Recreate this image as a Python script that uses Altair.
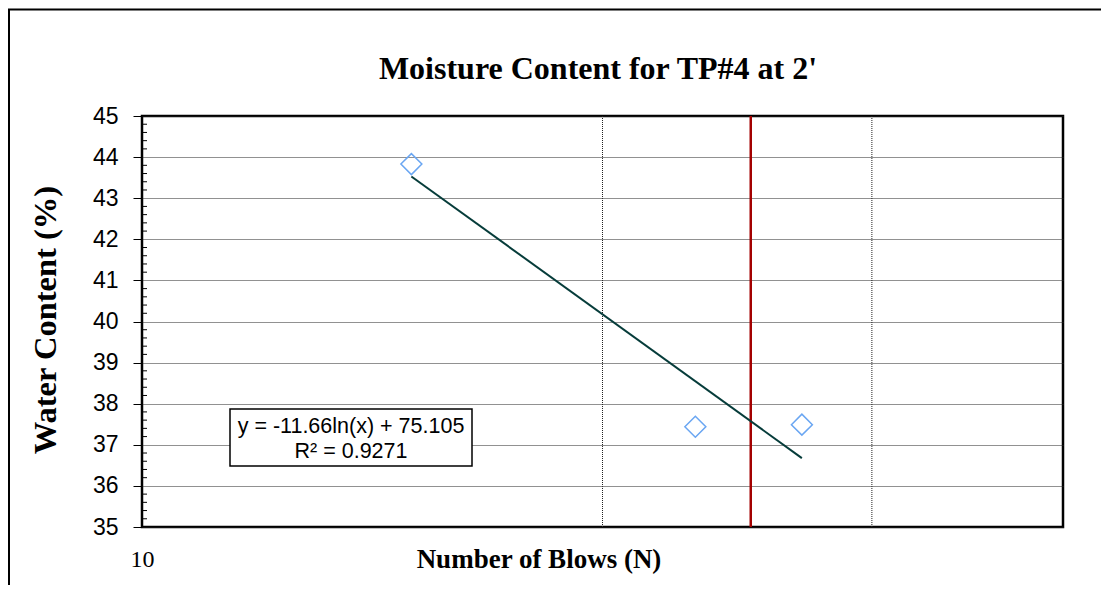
import altair as alt
import pandas as pd
import numpy as np

# ---- data ----
blows = [15, 23, 27]
water = [43.83, 37.44, 37.49]
trend_slope = -11.66
trend_intercept = 75.105
r_squared = 0.9271
ref_blows = [25]
grid_blows = [20, 30]
y_ticks = [35, 36, 37, 38, 39, 40, 41, 42, 43, 44, 45]
x_labels = [10]
minor_y = [round(35 + i * 0.2, 1) for i in range(51) if i % 5 != 0]

W, H = 921, 411

pts = pd.DataFrame({"N": blows, "w": water})
trend_x = [min(blows), max(blows)]
trend = pd.DataFrame({"N": trend_x,
                      "w": [trend_slope * np.log(v) + trend_intercept for v in trend_x]})
one = pd.DataFrame({"k": [0]})

xscale = alt.Scale(type="log", domain=[10, 40], nice=False)
yscale = alt.Scale(domain=[35, 45], nice=False, zero=False)

SERIF = "Liberation Serif"
SANS = "Liberation Sans"
GRID = "#222222"

xaxis = alt.Axis(values=x_labels, labelFont=SERIF, labelFontSize=24, labelColor="black",
                 ticks=False, tickSize=0, domain=False, grid=False, title=None,
                 labelPadding=20, labelFlush=False)
yaxis = alt.Axis(values=y_ticks, labelFont=SANS, labelFontSize=23, labelColor="black",
                 tickSize=9, tickColor="black", tickWidth=1, domain=False,
                 grid=True, gridColor=GRID, gridDash=[1, 1], gridWidth=1,
                 title=None, labelPadding=15)

X = alt.X("N:Q", scale=xscale, axis=xaxis)

vgrid = alt.Chart(pd.DataFrame({"N": grid_blows})).mark_rule(
    color=GRID, strokeDash=[1, 1], strokeWidth=1
).encode(x=X)

minor = alt.Chart(pd.DataFrame({"w": minor_y})).mark_rule(color="black", strokeWidth=1).encode(
    y=alt.Y("w:Q", scale=yscale, axis=yaxis), x=alt.value(0), x2=alt.value(5))

ref = alt.Chart(pd.DataFrame({"N": ref_blows})).mark_rule(
    color="#a30000", strokeWidth=2.5
).encode(x=X)

tline = alt.Chart(trend).mark_line(color="#063c3a", strokeWidth=2).encode(
    x=X, y=alt.Y("w:Q", scale=yscale, axis=yaxis))

points = alt.Chart(pts).mark_point(
    shape="diamond", filled=False, size=440, stroke="#6aa6f2", strokeWidth=1.5, opacity=1
).encode(x=X, y=alt.Y("w:Q", scale=yscale, axis=yaxis))

box = alt.Chart(one).mark_rect(fill="white", stroke="black", strokeWidth=1.5).encode(
    x=alt.value(88), x2=alt.value(330), y=alt.value(293), y2=alt.value(350))

eq1 = alt.Chart(one).mark_text(
    text=f"y = {trend_slope}ln(x) + {trend_intercept}", font=SANS, fontSize=21.5,
    color="black", align="center", baseline="middle"
).encode(x=alt.value(209), y=alt.value(311))
eq2 = alt.Chart(one).mark_text(
    text=f"R² = {r_squared}", font=SANS, fontSize=21.5,
    color="black", align="center", baseline="middle"
).encode(x=alt.value(209), y=alt.value(336))

title = alt.Chart(one).mark_text(
    text="Moisture Content for TP#4 at 2'", font=SERIF, fontSize=32, fontWeight="bold",
    color="black", align="center", baseline="alphabetic"
).encode(x=alt.value(456), y=alt.value(-37))

xtitle = alt.Chart(one).mark_text(
    text="Number of Blows (N)", font=SERIF, fontSize=27, fontWeight="bold",
    color="black", align="center", baseline="alphabetic"
).encode(x=alt.value(397), y=alt.value(452))

ytitle = alt.Chart(one).mark_text(
    text="Water Content (%)", font=SERIF, fontSize=32.5, fontWeight="bold",
    color="black", align="center", baseline="middle", angle=270
).encode(x=alt.value(-96), y=alt.value(204))

border_top = alt.Chart(one).mark_rule(color="black", strokeWidth=2).encode(
    x=alt.value(-134), x2=alt.value(W + 40), y=alt.value(-106.5))
border_left = alt.Chart(one).mark_rule(color="black", strokeWidth=2).encode(
    x=alt.value(-133), y=alt.value(-107), y2=alt.value(H + 60))

chart = alt.layer(
    points, vgrid, minor, ref, tline, box, eq1, eq2, title, xtitle, ytitle,
    border_top, border_left
).properties(
    width=W, height=H,
    autosize=alt.AutoSizeParams(type="none"),
    padding={"left": 134, "top": 108, "right": 38, "bottom": 58},
    background="white",
).configure_view(stroke="black", strokeWidth=2.5)

chart.save("out.html", embed_options={"renderer": "svg", "actions": False})
